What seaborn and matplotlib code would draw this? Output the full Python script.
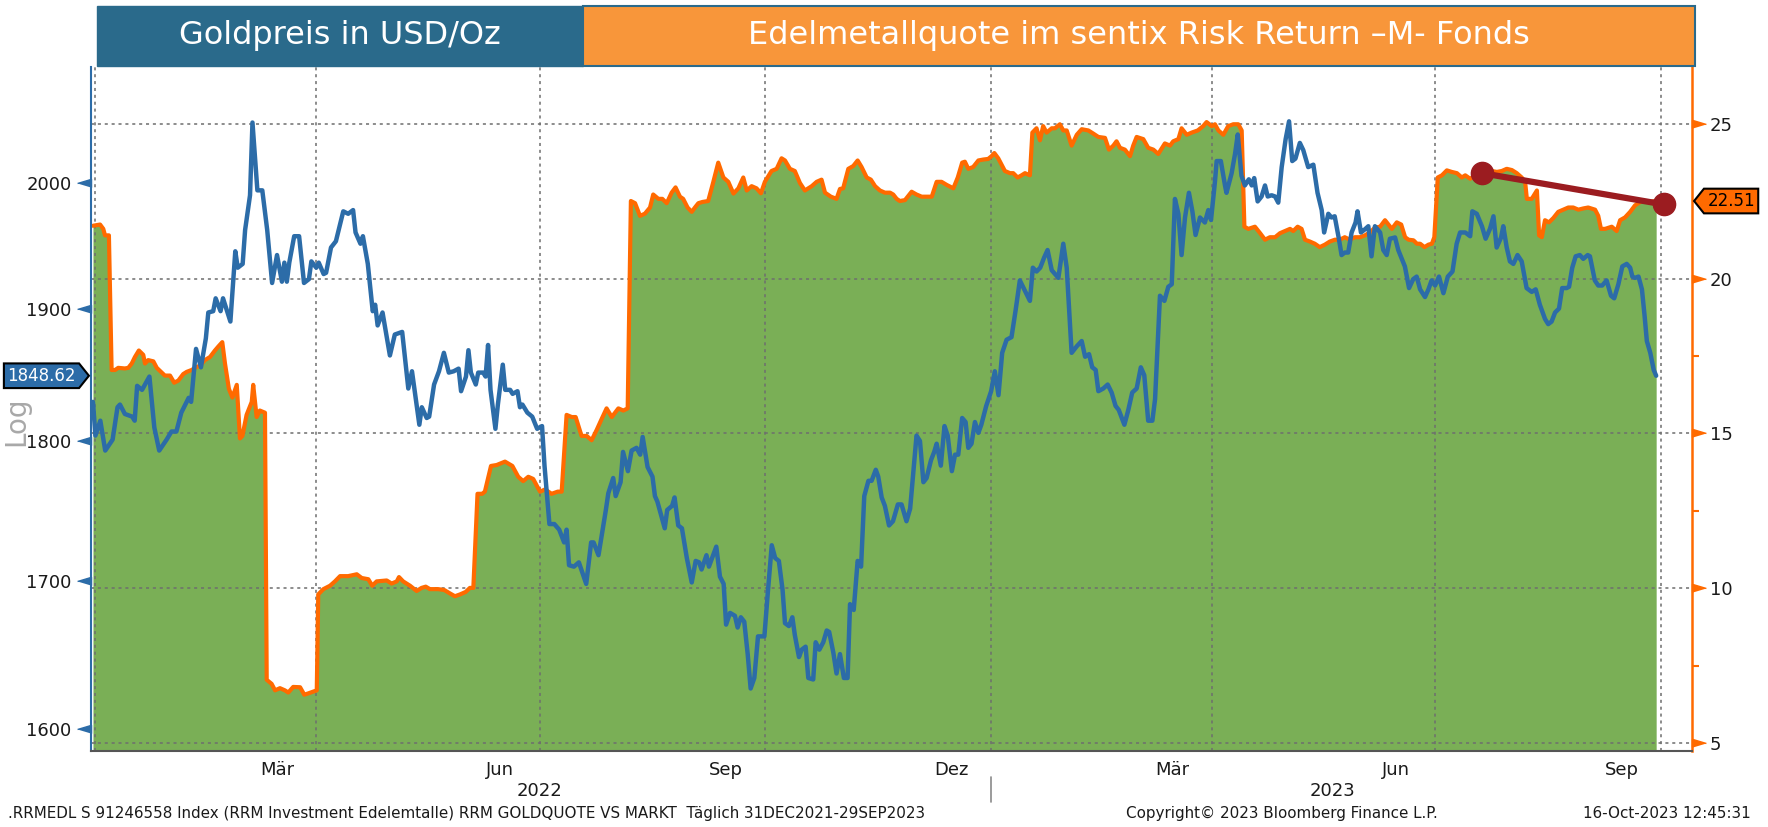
import numpy as np
import pandas as pd
import matplotlib
matplotlib.use("Agg")
import matplotlib.pyplot as plt
from matplotlib.path import Path
from matplotlib.patches import Rectangle
from matplotlib.ticker import NullLocator
from matplotlib import font_manager
import seaborn as sns

# values, x = calendar days after 31 Dec 2021
gold_day = [0, 1, 3, 5, 8, 10, 11, 13, 16, 17, 18, 20, 23, 25, 27, 30, 32, 34, 36, 39, 40, 42, 44, 46, 47, 49,
            50, 52, 53, 56, 58, 59, 61, 62, 64, 65, 67, 69, 71, 73, 75, 77, 78, 79, 80, 82, 84, 86, 88, 89, 91,
            92, 94, 95, 97, 99, 102, 104, 106, 107, 109, 110, 112, 114, 115, 116, 118, 121, 123, 126, 128.5,
            130, 133, 134, 136, 137, 139, 141, 143, 145, 147, 149, 150, 152, 153, 154, 156, 157, 159, 160, 161,
            162, 164, 165, 167, 168, 170, 171, 173, 174, 175, 177, 179, 181, 183, 184, 186, 188, 190, 192, 193,
            194, 196, 198, 201, 203, 204, 206, 209, 210, 212, 213, 215, 216, 218, 219.5, 221.5, 223, 224, 226,
            228, 229, 230, 233, 234, 236, 237, 238.5, 240, 242, 244, 245.6, 247, 248, 250, 251, 254, 255.5, 257,
            258, 259.6, 261.6, 262.7, 264, 265.4, 266.8, 268, 269.5, 271, 273.6, 275, 276.6, 278, 279.5, 281,
            282, 283.6, 285, 286, 287.7, 288.8, 290.4, 291.5, 293.5, 294.5, 296, 297.6, 299, 300, 301.7, 303,
            304.4, 306, 307.5, 308.5, 310, 311.6, 313, 314.3, 316, 317.3, 319, 320, 321.4, 322.7, 324.4, 326,
            328, 329.5, 331.5, 333, 335.6, 337, 338.4, 339.7, 341.5, 342.8, 343.8, 345.5, 347, 348.3, 350,
            351.3, 352.6, 354.2, 355.6, 356.7, 358, 359.4, 360.8, 362, 364, 366, 367.5, 369, 370.5, 372.3,
            374.3, 376, 377.7, 380, 381.8, 383, 384.5, 386, 387.6, 389, 390.7, 393.4, 395.4, 396.8, 398.8,
            400.9, 402.9, 404.3, 405.9, 407.2, 408.6, 409.7, 411.7, 413.5, 415.1, 416.7, 418, 420.3, 421.9,
            423.5, 425.3, 427, 428.4, 430, 431.7, 432.8, 434.8, 436.6, 438.2, 439.6, 440.9, 442.3, 443.6, 445,
            446.6, 448, 449.3, 451.1, 453.1, 454.5, 455.6, 457.2, 457.9, 459.6, 461.3, 461.9, 464, 465.4, 466.5,
            468, 469.4, 471, 472.2, 473.2, 474.6, 476.2, 477.6, 478.7, 480.3, 481.7, 483, 484.4, 486, 487.4,
            488.7, 490, 491.8, 493.2, 495.2, 497.3, 499, 500.7, 501.7, 503.4, 504.7, 506, 507.7, 508.8, 510.1,
            511.5, 512.9, 514.5, 515.3, 516.7, 518, 519.7, 521, 522.4, 524.5, 525.8, 527.2, 528.5, 530.6,
            531.9, 534.6, 536.3, 538, 539.4, 540.8, 542.8, 544.2, 545.5, 546.9, 548.5, 550.3, 552.1, 554,
            555.7, 557.1, 559.2, 561.2, 562.1, 563.9, 566, 567.5, 569.3, 570.7, 572, 573.8, 574.7, 576.1,
            577.4, 578.8, 580.5, 582.2, 584.2, 586.3, 587.9, 589.6, 591.7, 593, 594.4, 595.8, 597.4, 598.7,
            600.5, 601.5, 602.8, 604.2, 605.9, 607.3, 609.1, 610, 612, 613.4, 615, 616.8, 618.6, 619.9, 621.6,
            623.2, 625, 626.4, 627.3, 628.4, 629.8, 631.2, 632.3, 633.2, 634.6, 636, 637]
gold_usd = [1829, 1804, 1815, 1793, 1801, 1825, 1827, 1820, 1818, 1815, 1841, 1838, 1848, 1810, 1793, 1801, 1807,
            1807, 1821, 1832, 1829, 1869, 1855, 1877, 1897, 1898, 1908, 1898, 1908, 1890, 1945, 1932, 1935, 1962,
            1990, 2050, 1994, 1994, 1962, 1920, 1942, 1921, 1936, 1921, 1936, 1957, 1957, 1920, 1923, 1937, 1932,
            1936, 1927, 1928, 1948, 1953, 1977, 1975, 1978, 1960, 1951, 1957, 1935, 1898, 1903, 1887, 1897, 1864,
            1880, 1882, 1839, 1852, 1812, 1825, 1817, 1818, 1842, 1852, 1866, 1851, 1852, 1854, 1837, 1848, 1868,
            1851, 1842, 1851, 1851, 1848, 1872, 1838, 1809, 1827, 1857, 1838, 1838, 1835, 1837, 1825, 1827, 1821,
            1818, 1809, 1811, 1782, 1740, 1740, 1736, 1727, 1736, 1711, 1710, 1713, 1698, 1727, 1727, 1718, 1750,
            1762, 1773, 1760, 1770, 1792, 1778, 1793, 1795, 1790, 1803, 1781, 1774, 1760, 1756, 1737, 1750, 1753,
            1759, 1739, 1737, 1716, 1699, 1714, 1713, 1708, 1718, 1710, 1724, 1703, 1698, 1670, 1678, 1676, 1668,
            1675, 1672, 1650, 1627, 1634, 1662, 1662, 1692, 1725, 1716, 1714, 1694, 1671, 1669, 1675, 1663, 1648,
            1653, 1655, 1634, 1633, 1658, 1653, 1658, 1666, 1665, 1651, 1637, 1650, 1634, 1634, 1684, 1680, 1714,
            1710, 1760, 1771, 1771, 1779, 1774, 1759, 1753, 1739, 1742, 1754, 1754, 1742, 1751, 1804, 1800, 1770,
            1773, 1786, 1792, 1798, 1782, 1811, 1804, 1778, 1790, 1790, 1817, 1814, 1795, 1798, 1814, 1806, 1812,
            1826, 1837, 1852, 1834, 1866, 1876, 1878, 1899, 1922, 1913, 1906, 1932, 1929, 1932, 1940, 1946, 1930,
            1924, 1951, 1932, 1866, 1871, 1875, 1863, 1865, 1855, 1853, 1837, 1839, 1842, 1836, 1826, 1823, 1812,
            1823, 1836, 1839, 1855, 1849, 1815, 1815, 1831, 1910, 1906, 1917, 1919, 1987, 1975, 1942, 1972, 1992,
            1977, 1958, 1972, 1968, 1978, 1970, 2001, 2018, 2018, 1998, 1992, 2008, 2024, 2040, 2006, 1998, 2003,
            1998, 2004, 1985, 1989, 1998, 1989, 1990, 1989, 1984, 2013, 2036, 2051, 2018, 2020, 2033, 2027, 2013,
            2015, 1992, 1978, 1960, 1975, 1972, 1973, 1955, 1942, 1944, 1944, 1960, 1968, 1977, 1960, 1962, 1965,
            1941, 1965, 1960, 1946, 1942, 1955, 1956, 1946, 1933, 1916, 1923, 1925, 1915, 1909, 1915, 1922, 1918,
            1925, 1912, 1925, 1929, 1951, 1960, 1960, 1957, 1977, 1975, 1965, 1955, 1963, 1973, 1948, 1956, 1965,
            1948, 1937, 1935, 1942, 1937, 1916, 1913, 1915, 1903, 1892, 1888, 1890, 1897, 1900, 1916, 1916, 1917,
            1932, 1941, 1942, 1939, 1942, 1941, 1922, 1918, 1918, 1922, 1910, 1908, 1919, 1933, 1935, 1932, 1925,
            1924, 1925, 1915, 1894, 1875, 1866, 1853, 1848.62]

quote_day = [0, 2.9, 4.2, 4.9, 6.5, 7.6, 9, 10.3, 13, 14.4, 15.8, 17.1, 18.7, 20.5, 21.2, 22.5, 24.6, 26, 27.7,
             29.3, 31.4, 33.1, 34.8, 36.8, 38.2, 40.2, 42.3, 43.6, 45.6, 47.7, 49.7, 51.1, 52.7, 53.8, 55.4, 56.8,
             58.6, 59.9, 60.9, 62.6, 64.7, 65.3, 66.7, 68, 70.1, 70.8, 72.8, 74.2, 76.2, 78.2, 79.6, 81.6, 84.4,
             86.1, 87.7, 91.2, 91.8, 93.9, 96.6, 98.6, 100.7, 104, 107.5, 109.5, 112.2, 113.8, 115.6, 119.7,
             121.7, 123.8, 124.7, 126.4, 129.2, 131.9, 133.9, 135.6, 137.3, 140.7, 143.2, 145.5, 147.5, 149.6,
             151.9, 153.6, 155, 156.7, 158.6, 159.7, 162.2, 164.5, 167.9, 170.9, 173.3, 175.3, 177.4, 179.4,
             181.2, 182.2, 184.2, 186.9, 189.4, 191, 193, 195.1, 196.7, 199.1, 201.2, 203.2, 205.3, 207.3, 209.3,
             211.4, 214.1, 216.1, 217.9, 219.2, 220.9, 222.9, 224.9, 227, 228.3, 230.4, 232, 233.8, 235.8, 237.4,
             239.2, 240.5, 242.3, 244, 245.3, 246.7, 248.4, 250.7, 252.8, 254.8, 256.9, 258.9, 261, 263, 265,
             266.4, 268.4, 270.4, 272.2, 273.8, 276.5, 278.6, 280.6, 282, 284, 286, 288.1, 290.1, 292.9, 294.9,
             296.9, 298.3, 300.7, 303, 304.4, 305.7, 307.8, 309.8, 311.6, 313.2, 315.3, 317, 318.7, 320.7, 322.7,
             324.8, 326.1, 327.5, 328.8, 330.9, 333.6, 335.6, 337.7, 339.7, 341.8, 343.8, 345.8, 347.9, 350.6,
             352.4, 354.2, 355.3, 356.7, 358.7, 360.8, 362.8, 364.8, 366.2, 367.3, 368.9, 370.3, 371.6, 373.7,
             375, 376.8, 378.4, 379.8, 381.8, 382.8, 384.5, 385.9, 387.2, 388.6, 390.7, 392, 394, 395.4, 396.8,
             398.8, 400.9, 402.9, 405.6, 407.6, 409.7, 412.4, 414, 415.8, 417.1, 418.5, 420.5, 422.6, 423.9,
             425.3, 428, 430, 432.1, 434.1, 435.7, 436.8, 438.9, 440.2, 442.3, 443.6, 445.7, 447.7, 450.2, 452.4,
             453.8, 455.9, 457.2, 458.6, 460.6, 462.6, 464.7, 466.7, 468.1, 469.2, 470.8, 473.5, 475.6, 477.6,
             479.6, 481.7, 483.7, 485.7, 487.8, 489.1, 490.9, 492.5, 493.9, 495.9, 497.9, 499.9, 502, 504, 506.1,
             508.1, 510.1, 512.2, 514.2, 516.3, 518.3, 520.4, 522.4, 524.5, 526.5, 527.9, 529.3, 531.3, 533.1,
             534.7, 536.1, 538.1, 539.5, 540.8, 542.6, 544.2, 545.6, 546.6, 548, 549.7, 551.7, 553.7, 555.8,
             557.8, 559.2, 561.2, 563.2, 565.3, 568, 570, 572.1, 574.1, 576.1, 578.2, 580.2, 582.2, 583.6, 584.3,
             586.3, 588.4, 589.3, 590.4, 591.7, 593.3, 595.1, 597.1, 599.2, 601.2, 603.2, 605.3, 607.3, 609.3,
             612.1, 613.4, 614.5, 616.2, 618.9, 620.9, 622.3, 624.3, 626.4, 628.4, 631.1, 633.8, 637]
quote_pct = [21.71, 21.75, 21.61, 21.40, 21.40, 17.05, 17.05, 17.12, 17.10, 17.12, 17.26, 17.47, 17.68, 17.54,
             17.26, 17.37, 17.33, 17.12, 16.99, 16.87, 16.87, 16.64, 16.71, 16.92, 16.99, 17.05, 17.15, 17.19,
             17.37, 17.47, 17.68, 17.81, 17.95, 17.26, 16.44, 16.16, 16.57, 14.84, 14.92, 15.60, 16.02, 16.57,
             15.53, 15.74, 15.67, 7.04, 6.91, 6.70, 6.77, 6.70, 6.63, 6.81, 6.80, 6.56, 6.60, 6.70, 9.80, 9.97,
             10.08, 10.22, 10.39, 10.39, 10.45, 10.33, 10.29, 10.08, 10.22, 10.25, 10.15, 10.22, 10.36, 10.22,
             10.08, 9.91, 10.01, 10.05, 9.97, 9.97, 9.94, 9.83, 9.74, 9.80, 9.88, 10.01, 10.01, 13.05, 13.05,
             13.12, 13.95, 13.98, 14.09, 13.95, 13.60, 13.46, 13.60, 13.53, 13.26, 13.12, 13.19, 13.05, 13.12,
             13.12, 15.60, 15.53, 15.53, 14.92, 14.92, 14.78, 15.12, 15.47, 15.81, 15.53, 15.81, 15.74, 15.81,
             22.51, 22.44, 22.03, 22.10, 22.30, 22.72, 22.58, 22.58, 22.44, 22.78, 22.95, 22.65, 22.58, 22.30,
             22.16, 22.30, 22.44, 22.48, 22.51, 23.13, 23.75, 23.27, 23.13, 22.75, 22.92, 23.27, 22.85, 22.99,
             22.92, 22.76, 23.13, 23.48, 23.55, 23.89, 23.82, 23.55, 23.48, 23.09, 22.85, 22.99, 23.13, 23.20,
             22.78, 22.65, 22.58, 22.90, 22.92, 23.55, 23.64, 23.82, 23.61, 23.27, 23.20, 22.99, 22.85, 22.78,
             22.78, 22.72, 22.58, 22.51, 22.54, 22.81, 22.72, 22.65, 22.65, 22.65, 23.13, 23.13, 23.03, 22.92,
             23.27, 23.75, 23.78, 23.55, 23.61, 23.82, 23.85, 23.87, 23.96, 24.06, 23.89, 23.68, 23.48, 23.41,
             23.41, 23.27, 23.34, 23.41, 23.34, 24.72, 24.86, 24.47, 24.93, 24.72, 24.86, 24.86, 24.99, 24.79,
             24.79, 24.30, 24.65, 24.83, 24.79, 24.69, 24.58, 24.55, 24.17, 24.30, 24.44, 24.23, 24.17, 23.96,
             24.30, 24.58, 24.51, 24.23, 24.17, 24.03, 24.23, 24.37, 24.30, 24.44, 24.51, 24.86, 24.65, 24.72,
             24.79, 24.93, 25.06, 24.93, 24.99, 24.79, 24.65, 24.93, 24.99, 24.99, 24.79, 21.68, 21.61, 21.68,
             21.47, 21.26, 21.34, 21.34, 21.47, 21.54, 21.61, 21.54, 21.68, 21.61, 21.26, 21.20, 21.13, 21.02,
             21.10, 21.20, 21.26, 21.26, 21.34, 21.26, 21.34, 21.34, 21.40, 21.50, 21.65, 21.68, 21.89, 21.75,
             21.61, 21.82, 21.75, 21.34, 21.26, 21.24, 21.13, 21.13, 21.02, 21.10, 21.13, 21.34, 23.27, 23.34,
             23.50, 23.45, 23.41, 23.27, 23.34, 23.23, 23.34, 23.27, 23.34, 23.48, 23.45, 23.48, 23.55, 23.51,
             23.41, 23.27, 23.13, 22.58, 22.58, 22.85, 21.40, 21.34, 21.89, 21.82, 21.96, 22.16, 22.23, 22.30,
             22.30, 22.23, 22.27, 22.30, 22.23, 22.03, 21.61, 21.61, 21.68, 21.54, 21.89, 21.98, 22.16, 22.37,
             22.51, 22.48, 22.51]

# hand-drawn trend line (dark red, two dots)
trend_day = [566, 640]
trend_pct = [23.41, 22.40]

last_gold = "1848.62"
last_quote = "22.51"

left_ticks = [1600, 1700, 1800, 1900, 2000]
right_ticks = [5, 10, 15, 20, 25]
right_minor = [7.5, 12.5, 17.5, 22.5]
month_labels = ["Mär", "Jun", "Sep", "Dez", "Mär", "Jun", "Sep"]
month_label_dates = ["2022-03-16", "2022-06-15", "2022-09-15", "2022-12-16",
                     "2023-03-16", "2023-06-15", "2023-09-15"]
year_labels = ["2022", "2023"]
year_label_dates = ["2022-07-01", "2023-05-20"]

BLUE = "#2C6CA8"
ORANGE = "#FF6A00"
GREEN = "#7AAF56"
HEAD_BLUE = "#2A6A8B"
HEAD_ORANGE = "#F8963A"
RED = "#9B1C20"
GRID = "#6E6E6E"

sns.set_style("white")
names = {f.name for f in font_manager.fontManager.ttflist}
if "Liberation Sans Narrow" in names:
    FONT, tick_fs, foot_fs, tag_fs = "Liberation Sans Narrow", 15, 13, 14
else:
    FONT, tick_fs, foot_fs, tag_fs = "DejaVu Sans", 13, 10.9, 12
plt.rcParams["font.family"] = [FONT, "DejaVu Sans"]

base = pd.Timestamp("2021-12-31")
gold_dates = base + pd.to_timedelta(gold_day, unit="D")
quote_dates = base + pd.to_timedelta(quote_day, unit="D")
trend_dates = base + pd.to_timedelta(trend_day, unit="D")
quarter_starts = pd.date_range("2022-01-01", "2023-10-01", freq="QS")
month_starts = pd.date_range("2022-01-01", "2023-10-01", freq="MS")


def tag_right(x0, y0, width, height, mutation_size):
    pad = 0.2 * mutation_size
    x0, y0 = x0 - pad, y0 - pad
    x1, y1 = x0 + width + 2 * pad, y0 + height + 2 * pad
    tip = 0.4 * (y1 - y0)
    return Path([(x0, y0), (x1, y0), (x1 + tip, (y0 + y1) / 2), (x1, y1), (x0, y1), (x0, y0)], closed=True)


def tag_left(x0, y0, width, height, mutation_size):
    pad = 0.2 * mutation_size
    x0, y0 = x0 - pad, y0 - pad
    x1, y1 = x0 + width + 2 * pad, y0 + height + 2 * pad
    tip = 0.4 * (y1 - y0)
    return Path([(x0, y0), (x1, y0), (x1, y1), (x0, y1), (x0 - tip, (y0 + y1) / 2), (x0, y0)], closed=True)


fig = plt.figure(figsize=(17.68, 8.27), dpi=100)
ax = fig.add_axes([91 / 1768, 76 / 827, 1601 / 1768, 684 / 827])
ax2 = ax.twinx()
ax.set_zorder(ax2.get_zorder() + 1)
ax.patch.set_visible(False)

# quote: green area with orange edge (right axis)
ax2.fill_between(quote_dates, 0, quote_pct, color=GREEN, lw=0, zorder=1)
sns.lineplot(x=quote_dates, y=quote_pct, ax=ax2, color=ORANGE, lw=3, estimator=None, sort=False, zorder=3)
for q in quarter_starts:
    ax2.axvline(q, color=GRID, ls=(0, (2, 2.5)), lw=1.1, zorder=2)
for v in right_ticks:
    ax2.axhline(v, color=GRID, ls=(0, (2, 2.5)), lw=1.1, zorder=2)
ax2.plot(trend_dates, trend_pct, color=RED, lw=4.5, marker="o", ms=16, zorder=6, clip_on=False)

# gold price (left axis, log)
sns.lineplot(x=gold_dates, y=gold_usd, ax=ax, color=BLUE, lw=3.2, estimator=None, sort=False, zorder=4)
ax.set_yscale("log")

ax.set_xlim(base - pd.Timedelta(days=0.8), base + pd.Timedelta(days=651.6))
ax.set_ylim(1586, 2097)
ax2.set_ylim(4.74, 26.84)

ax.set_xticks(pd.to_datetime(month_label_dates))
ax.set_xticklabels(month_labels)
ax.set_xticks(month_starts, minor=True)
ax.tick_params(axis="x", which="major", length=0, pad=7, labelsize=tick_fs, labelcolor="#1A1A1A")
ax.tick_params(axis="x", which="minor", length=6, width=1.2, color="#555555")

ax.set_yticks(left_ticks)
ax.set_yticklabels([str(t) for t in left_ticks])
ax.yaxis.set_minor_locator(NullLocator())
ax.tick_params(axis="y", which="major", length=0, pad=14, labelsize=tick_fs, labelcolor="#1A1A1A")
ax.plot(np.zeros(len(left_ticks)), left_ticks, transform=ax.get_yaxis_transform(), ls="none",
        marker=[(-1, 0), (0, 0.3), (0, -0.3)], ms=20, color=BLUE, clip_on=False)

ax2.set_yticks(right_ticks)
ax2.set_yticklabels([str(t) for t in right_ticks])
ax2.set_yticks(right_minor, minor=True)
ax2.tick_params(axis="y", which="major", length=0, pad=13, labelsize=tick_fs, labelcolor="#1A1A1A")
ax2.tick_params(axis="y", which="minor", length=5, width=1.5, color=ORANGE)
ax2.plot(np.ones(len(right_ticks)), right_ticks, transform=ax2.get_yaxis_transform(), ls="none",
         marker=[(1, 0), (0, 0.3), (0, -0.3)], ms=20, color=ORANGE, clip_on=False)

ax.set_xlabel("")
ax.set_ylabel("")
ax2.set_ylabel("")
for s in ["top", "right"]:
    ax.spines[s].set_visible(False)
ax.spines["left"].set_color(BLUE)
ax.spines["left"].set_linewidth(1.5)
ax.spines["bottom"].set_color("#555555")
ax.spines["bottom"].set_linewidth(1.5)
for s in ["top", "left", "bottom"]:
    ax2.spines[s].set_visible(False)
ax2.spines["right"].set_color(ORANGE)
ax2.spines["right"].set_linewidth(1.8)

# year labels and the year separator
for lab, d in zip(year_labels, year_label_dates):
    ax.text(pd.Timestamp(d), -0.058, lab, transform=ax.get_xaxis_transform(), ha="center", va="center",
            fontsize=tick_fs, color="#1A1A1A")
ax.plot([pd.Timestamp("2023-01-01")] * 2, [-0.038, -0.075], transform=ax.get_xaxis_transform(),
        color="#8A8A8A", lw=1.2, clip_on=False)

# "Log" marker (kept clear of the tick labels) and last-value tags
ax.text(0.0092, 0.491, "Log", transform=fig.transFigure, rotation=90, ha="center", va="center",
        fontsize=20, color="#A8A8A8", family="DejaVu Sans", zorder=1)
ax.annotate(last_gold, xy=(0, float(last_gold)), xycoords=ax.get_yaxis_transform(), xytext=(-11, 0),
            textcoords="offset points", ha="right", va="center", color="white", fontsize=tag_fs,
            bbox=dict(boxstyle=tag_right, fc=BLUE, ec="black", lw=1.5), annotation_clip=False, zorder=10)
ax2.annotate(last_quote, xy=(1, float(last_quote)), xycoords=ax2.get_yaxis_transform(), xytext=(11, 0),
             textcoords="offset points", ha="left", va="center", color="black", fontsize=tag_fs,
             bbox=dict(boxstyle=tag_left, fc=ORANGE, ec="black", lw=1.5), annotation_clip=False, zorder=10)

# header banners
fig.add_artist(Rectangle((97 / 1768, 0.9202), 486 / 1768, 0.0725, transform=fig.transFigure,
                         fc=HEAD_BLUE, ec=HEAD_BLUE, lw=1))
fig.add_artist(Rectangle((583 / 1768, 0.9202), 1112 / 1768, 0.0725, transform=fig.transFigure,
                         fc=HEAD_ORANGE, ec=HEAD_BLUE, lw=1.5))
fig.text(340 / 1768, 0.9565, "Goldpreis in USD/Oz", ha="center", va="center", color="white",
         fontsize=23, family="DejaVu Sans")
fig.text(1139 / 1768, 0.9565, "Edelmetallquote im sentix Risk Return \u2013M- Fonds", ha="center",
         va="center", color="white", fontsize=23, family="DejaVu Sans")

# footer
fig.text(8 / 1768, 0.0169, ".RRMEDL S 91246558 Index (RRM Investment Edelemtalle) RRM GOLDQUOTE VS MARKT  "
         "T\u00e4glich 31DEC2021-29SEP2023", ha="left", va="center", fontsize=foot_fs, color="#1A1A1A")
fig.text(1126 / 1768, 0.0169, "Copyright\u00a9 2023 Bloomberg Finance L.P.", ha="left", va="center",
         fontsize=foot_fs, color="#1A1A1A")
fig.text(1751 / 1768, 0.0169, "16-Oct-2023 12:45:31", ha="right", va="center", fontsize=foot_fs,
         color="#1A1A1A")

fig.savefig("out.png", dpi=100)
